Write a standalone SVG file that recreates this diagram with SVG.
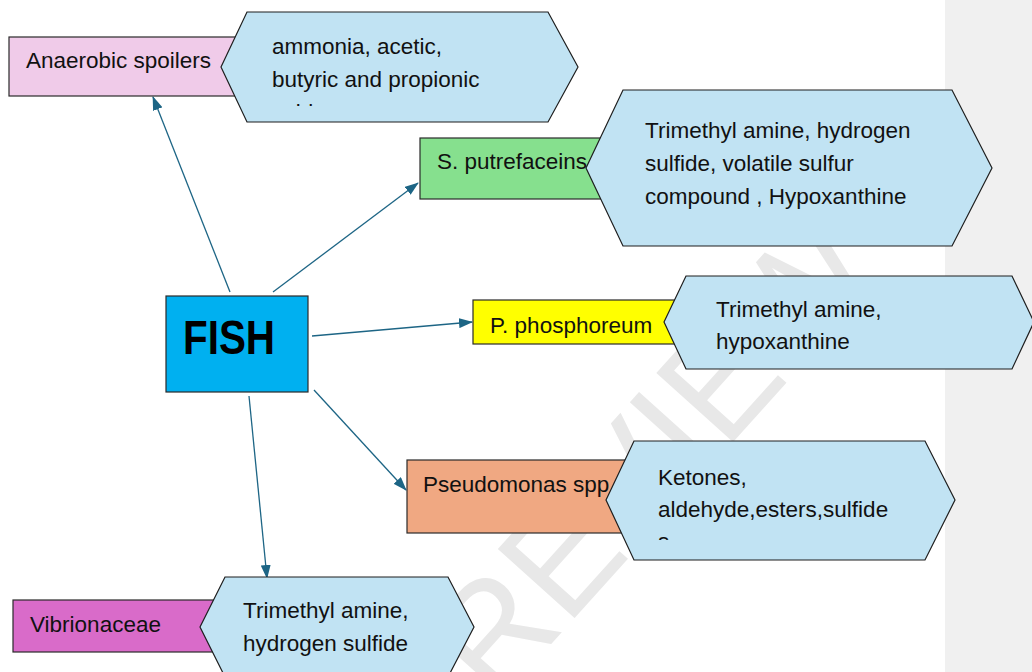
<svg xmlns="http://www.w3.org/2000/svg" width="1032" height="672" viewBox="0 0 1032 672">
<style>
.box{stroke:#2a2a2a;stroke-width:1.2}
.hex{fill:#c1e3f3;stroke:#1e1e1e;stroke-width:1.2}
.t{font-family:"Liberation Sans",Arial,sans-serif;font-size:22.5px;fill:#111}
.fish{font-family:"Liberation Sans",Arial,sans-serif;font-size:48px;font-weight:bold;fill:#000}
.conn{stroke:#1d6585;stroke-width:1.3;fill:none;marker-end:url(#ah)}
.wm{font-family:"Liberation Sans",Arial,sans-serif;font-size:150px;fill:#e8e8e8}
</style>
<defs>
<marker id="ah" viewBox="0 0 14 10" refX="13" refY="5" markerWidth="14" markerHeight="10" markerUnits="userSpaceOnUse" orient="auto">
<path d="M0,0 L14,5 L0,10 Z" fill="#1d6585"/>
</marker>
<clipPath id="c1"><rect x="250" y="15" width="300" height="91"/></clipPath>
<clipPath id="c4"><rect x="640" y="444" width="290" height="96"/></clipPath>
</defs>
<rect x="0" y="0" width="1032" height="672" fill="#ffffff"/>
<rect x="945" y="0" width="87" height="672" fill="#f0f0f0"/>
<g id="watermark">
<text class="wm" transform="translate(650,455) rotate(-48)" x="0" y="53" text-anchor="middle" textLength="580" lengthAdjust="spacingAndGlyphs">REVIEW</text>
</g>
<g id="connectors">
<line class="conn" x1="230" y1="292" x2="153" y2="97"/>
<line class="conn" x1="273" y1="292" x2="418" y2="183"/>
<line class="conn" x1="312" y1="336" x2="472" y2="322"/>
<line class="conn" x1="314" y1="390" x2="406" y2="490"/>
<line class="conn" x1="249" y1="396" x2="267" y2="578"/>
</g>
<g id="fish">
<rect class="box" x="166" y="296" width="142" height="96" fill="#00b0f0"/>
<text class="fish" x="183" y="354" textLength="92" lengthAdjust="spacingAndGlyphs">FISH</text>
</g>
<g id="anaerobic">
<rect class="box" x="9" y="37" width="236" height="59" fill="#f0cbe9"/>
<text class="t" x="26" y="68">Anaerobic spoilers</text>
</g>
<g id="anaerobic-products">
<polygon class="hex" points="221,67 247,12 548,12 578,67 548,122 247,122"/>
<g clip-path="url(#c1)">
<text class="t" x="272" y="54">ammonia, acetic,</text>
<text class="t" x="272" y="87">butyric and propionic</text>
<text class="t" x="272" y="120">acids</text>
</g>
</g>
<g id="sputrefaceins">
<rect class="box" x="420" y="138" width="200" height="61" fill="#86e08e"/>
<text class="t" x="437" y="169">S. putrefaceins</text>
</g>
<g id="sputrefaceins-products">
<polygon class="hex" points="586,168 623,90 952,90 992,168 952,246 623,246"/>
<text class="t" x="645" y="138">Trimethyl amine, hydrogen</text>
<text class="t" x="645" y="171">sulfide, volatile sulfur</text>
<text class="t" x="645" y="204">compound , Hypoxanthine</text>
</g>
<g id="pphosphoreum">
<rect class="box" x="473" y="300" width="220" height="44" fill="#ffff00"/>
<text class="t" x="490" y="333">P. phosphoreum</text>
</g>
<g id="pphosphoreum-products">
<polygon class="hex" points="664,322 686,276 1012,276 1034,322 1012,369 686,369"/>
<text class="t" x="716" y="317">Trimethyl amine,</text>
<text class="t" x="716" y="349">hypoxanthine</text>
</g>
<g id="pseudomonas">
<rect class="box" x="407" y="460" width="230" height="73" fill="#f0a882"/>
<text class="t" x="423" y="492">Pseudomonas spp</text>
</g>
<g id="pseudomonas-products">
<polygon class="hex" points="606,500 634,441 925,441 955,500 925,560 634,560"/>
<g clip-path="url(#c4)">
<text class="t" x="658" y="485">Ketones,</text>
<text class="t" x="658" y="517">aldehyde,esters,sulfide</text>
<text class="t" x="658" y="549">s</text>
</g>
</g>
<g id="vibrionaceae">
<rect class="box" x="13" y="600" width="220" height="52" fill="#d96bc9"/>
<text class="t" x="30" y="632">Vibrionaceae</text>
</g>
<g id="vibrionaceae-products">
<polygon class="hex" points="200,627 225,577 448,577 474,627 448,677 225,677"/>
<text class="t" x="243" y="618">Trimethyl amine,</text>
<text class="t" x="243" y="651">hydrogen sulfide</text>
</g>
</svg>
